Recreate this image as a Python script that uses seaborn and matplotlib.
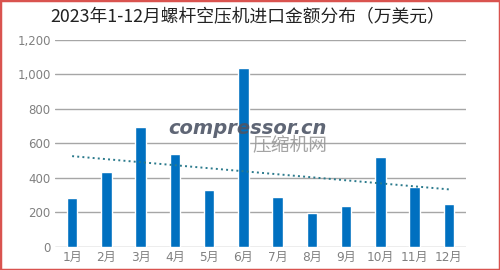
import numpy as np
import pandas as pd
import matplotlib
matplotlib.use('Agg')
import matplotlib.pyplot as plt
import seaborn as sns
from matplotlib.ticker import FuncFormatter
from matplotlib.patches import Rectangle

months = ['1月', '2月', '3月', '4月', '5月', '6月', '7月', '8月', '9月', '10月', '11月', '12月']
values = [281, 433, 696, 537, 331, 1035, 291, 194, 235, 520, 349, 248]
title = '2023年1-12月螺杆空压机进口金额分布（万美元）'
yticks = [0, 200, 400, 600, 800, 1000, 1200]

sns.set_theme(style='white')
plt.rcParams['font.family'] = ['Noto Sans CJK SC', 'DejaVu Sans']

df = pd.DataFrame({'month': months, 'value': values, 'idx': np.arange(len(months))})

fig = plt.figure(figsize=(5, 2.7), dpi=100)
ax = fig.add_axes([0.11, 0.0863, 0.822, 0.7657])

sns.barplot(data=df, x='month', y='value', color='#0070C0', width=0.3,
            saturation=1, ax=ax, zorder=3)
sns.regplot(data=df, x='idx', y='value', scatter=False, ci=None, truncate=True,
            ax=ax, line_kws=dict(color='#2b7a8c', lw=1.4, ls=':', zorder=4))

ax.set_xlim(-0.5, 11.5)
ax.set_ylim(0, 1200)
ax.set_yticks(yticks)
ax.yaxis.set_major_formatter(FuncFormatter(lambda v, p: f'{int(v):,}'))
ax.set_xticks(range(len(months)))
ax.set_xticklabels(months)
ax.set_xlabel('')
ax.set_ylabel('')
ax.yaxis.grid(True, color='#a6a6a6', lw=1)
ax.set_axisbelow(True)
for s in ax.spines.values():
    s.set_visible(False)
ax.tick_params(axis='both', length=0, colors='#808080')
ax.tick_params(axis='y', pad=3)
ax.tick_params(axis='x', pad=3)
for lab in ax.get_yticklabels():
    lab.set_color('#808080')
    lab.set_family(['DejaVu Sans', 'Noto Sans CJK SC'])
    lab.set_fontsize(8.5)
for lab in ax.get_xticklabels():
    lab.set_color('#808080')
    lab.set_family(['DejaVu Sans', 'Noto Sans CJK SC'])
    lab.set_fontsize(8.7)

fig.text(0.495, 0.937, title, ha='center', va='center', fontsize=12.8, color='#222222')

# watermark
fig.text(0.336, 1 - 128 / 270, 'compressor.cn', ha='left', va='center', fontsize=14,
         fontweight='bold', fontstyle='italic', color='#4d5566', family='DejaVu Sans', alpha=0.9)
fig.text(0.504, 1 - 146 / 270, '压缩机网', ha='left', va='center', fontsize=13.5,
         color='#9a9a9a', alpha=0.9)

fig.patches.append(Rectangle((0, 0), 1, 1, transform=fig.transFigure, fill=False,
                             edgecolor='#d9534f', lw=2.5))

fig.savefig('out.png', dpi=100)
